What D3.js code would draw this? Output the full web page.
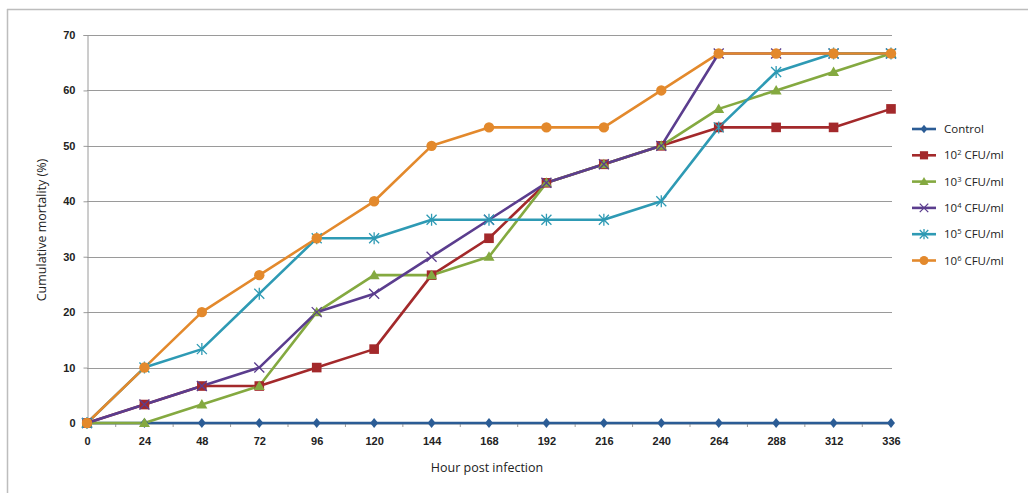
<!DOCTYPE html>
<html><head><meta charset="utf-8">
<script src="https://cdn.jsdelivr.net/npm/d3@7"></script>
<style>body{margin:0;background:#fff}svg{display:block;font-family:"Open Sans","Liberation Sans",sans-serif}</style>
</head><body><svg id="c" width="1028" height="493"></svg>
<script>
const hours = [0,24,48,72,96,120,144,168,192,216,240,264,288,312,336];
const yTicks = [0,10,20,30,40,50,60,70];
const control = [0,0,0,0,0,0,0,0,0,0,0,0,0,0,0];
const cfu2 = [0,3.33,6.67,6.67,10,13.33,26.67,33.33,43.33,46.67,50,53.33,53.33,53.33,56.67];
const cfu3 = [0,0,3.33,6.67,20,26.67,26.67,30,43.33,46.67,50,56.67,60,63.33,66.67];
const cfu4 = [0,3.33,6.67,10,20,23.33,30,36.67,43.33,46.67,50,66.67,66.67,66.67,66.67];
const cfu5 = [0,10,13.33,23.33,33.33,33.33,36.67,36.67,36.67,36.67,40,53.33,63.33,66.67,66.67];
const cfu6 = [0,10,20,26.67,33.33,40,50,53.33,53.33,53.33,60,66.67,66.67,66.67,66.67];
const seriesNames = ["Control","10|2| CFU/ml","10|3| CFU/ml","10|4| CFU/ml","10|5| CFU/ml","10|6| CFU/ml"];
const seriesValues = [control,cfu2,cfu3,cfu4,cfu5,cfu6];
const colors = ["#2B5C95","#A3292B","#84A940","#5B3D8E","#2E9AB4","#E3892C"];
const markers = ["diamond","square","triangle","x","asterisk","circle"];
const xTitle = "Hour post infection";
const yTitle = "Cumulative mortality (%)";

const svg = d3.select("#c");
const L=87,R=891,T=35,B=423;
const x = d3.scaleLinear().domain([0,336]).range([L,R]);
const y = d3.scaleLinear().domain([0,70]).range([B,T]);

svg.append("line").attr("x1",7).attr("x2",1028).attr("y1",9.5).attr("y2",9.5).attr("stroke","#bdbdbd").attr("stroke-width",1.5);
svg.append("line").attr("x1",7.5).attr("x2",7.5).attr("y1",9).attr("y2",493).attr("stroke","#bdbdbd").attr("stroke-width",1.5);

svg.append("g").selectAll("line").data(yTicks.filter(d=>d>0)).join("line")
  .attr("x1",L).attr("x2",R+1).attr("y1",d=>Math.round(y(d))+0.5).attr("y2",d=>Math.round(y(d))+0.5)
  .attr("stroke","#9a9a9a").attr("stroke-width",1);

const ya = svg.append("g").attr("transform",`translate(${L+0.5},0)`)
  .call(d3.axisLeft(y).tickValues(yTicks).tickSize(4).tickPadding(8).tickFormat(d3.format("d")));
ya.select(".domain").attr("stroke","#9a9a9a");
ya.selectAll(".tick line").attr("stroke","#9a9a9a");
ya.selectAll("text").attr("font-size",11).attr("fill","#222").attr("font-weight",600);

const xa = svg.append("g").attr("transform",`translate(0,${B+0.5})`)
  .call(d3.axisBottom(x).tickValues(hours).tickSize(0).tickPadding(14).tickFormat(d3.format("d")));
xa.select(".domain").attr("stroke","#9a9a9a");
xa.selectAll("text").attr("font-size",11).attr("fill","#222").attr("font-weight",600);
svg.append("g").selectAll("line").data(d3.range(12,336,24)).join("line")
  .attr("x1",d=>x(d)).attr("x2",d=>x(d)).attr("y1",B).attr("y2",B+4).attr("stroke","#9a9a9a");

svg.append("text").attr("x",487).attr("y",472).attr("text-anchor","middle").attr("font-size",12.5).attr("fill","#222").text(xTitle);
svg.append("text").attr("transform","translate(46,230) rotate(-90)").attr("text-anchor","middle").attr("font-size",12.5).attr("fill","#222").text(yTitle);

function drawMarker(g, type, color, sc){
  if(type==="diamond") g.append("path").attr("d",`M0,${-5*sc}L${4*sc},0L0,${5*sc}L${-4*sc},0Z`).attr("fill",color);
  else if(type==="square") g.append("rect").attr("x",-4.8*sc).attr("y",-4.8*sc).attr("width",9.6*sc).attr("height",9.6*sc).attr("fill",color);
  else if(type==="triangle") g.append("path").attr("d",`M0,${-5.5*sc}L${5.5*sc},${4*sc}L${-5.5*sc},${4*sc}Z`).attr("fill",color);
  else if(type==="circle") g.append("circle").attr("r",5.2*sc).attr("fill",color);
  else if(type==="x") g.append("path").attr("d",`M${-5*sc},${-5*sc}L${5*sc},${5*sc}M${-5*sc},${5*sc}L${5*sc},${-5*sc}`).attr("stroke",color).attr("stroke-width",1.3).attr("fill","none");
  else if(type==="asterisk") g.append("path").attr("d",`M${-5*sc},${-5*sc}L${5*sc},${5*sc}M${-5*sc},${5*sc}L${5*sc},${-5*sc}M0,${-6*sc}L0,${6*sc}`).attr("stroke",color).attr("stroke-width",1.3).attr("fill","none");
}

const line = d3.line().x((d,i)=>x(hours[i])).y(d=>y(d));
seriesValues.forEach((vals,k)=>{
  svg.append("path").datum(vals).attr("d",line).attr("fill","none").attr("stroke",colors[k]).attr("stroke-width",2.6).attr("stroke-linejoin","round");
});
seriesValues.forEach((vals,k)=>{
  vals.forEach((v,i)=>{
    const g = svg.append("g").attr("transform",`translate(${x(hours[i])},${y(v)})`);
    drawMarker(g, markers[k], colors[k], 1);
  });
});

const lg = svg.append("g");
seriesNames.forEach((name,k)=>{
  const yy = 129 + k*26.3;
  lg.append("line").attr("x1",912).attr("x2",936).attr("y1",yy).attr("y2",yy).attr("stroke",colors[k]).attr("stroke-width",2.6);
  const g = lg.append("g").attr("transform",`translate(924,${yy})`);
  drawMarker(g, markers[k], colors[k], 0.85);
  const parts = name.split("|");
  const t = lg.append("text").attr("x",944).attr("y",yy+4).attr("font-size",11.5).attr("fill","#222");
  t.append("tspan").text(parts[0]);
  if(parts.length>1){
    t.append("tspan").attr("dy",-4).attr("font-size",7.5).text(parts[1]);
    t.append("tspan").attr("dy",4).text(parts[2]);
  }
});
</script></body></html>
